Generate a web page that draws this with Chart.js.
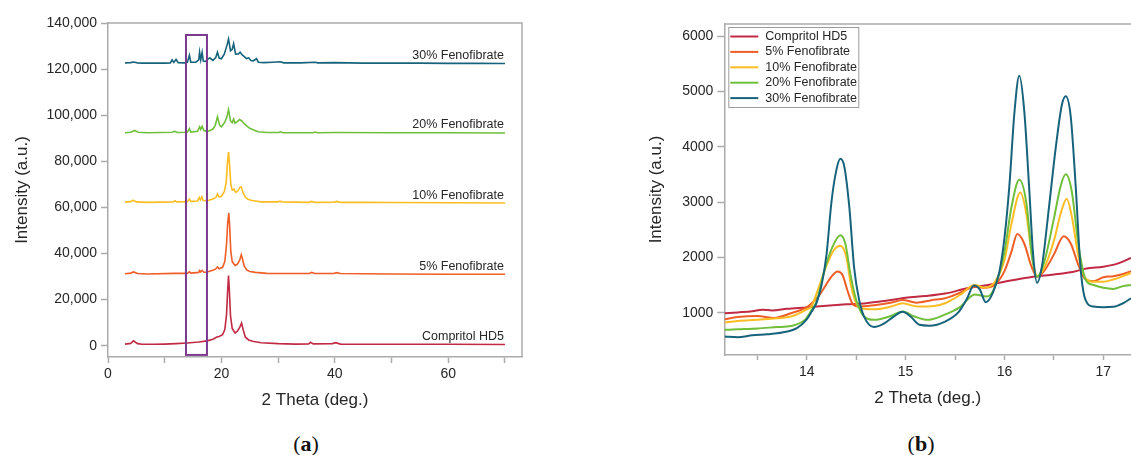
<!DOCTYPE html>
<html>
<head>
<meta charset="utf-8">
<script src="https://cdn.jsdelivr.net/npm/chart.js@4.4.1/dist/chart.umd.min.js"></script>
<style>
  html, body { margin: 0; padding: 0; background: #fff; width: 1131px; height: 455px; overflow: hidden; }
  canvas { position: absolute; top: 0; }
  .panel-tag { position: absolute; top: 431px; font-family: "Liberation Serif", "DejaVu Serif", serif; font-size: 22px; color: #111; transform: translateX(-50%); white-space: nowrap; }
</style>
</head>
<body>
<canvas id="chartA" width="560" height="420" style="left:0"></canvas>
<canvas id="chartB" width="511" height="420" style="left:620px"></canvas>
<div class="panel-tag" style="left:306px">(<b>a</b>)</div>
<div class="panel-tag" style="left:921px">(<b>b</b>)</div>
<script>
// ---- series names ----
const seriesLabels = ['Compritol HD5', '5% Fenofibrate', '10% Fenofibrate', '20% Fenofibrate', '30% Fenofibrate'];
const seriesColors = ['#C02A44', '#EF5E27', '#FDBD22', '#6FBF3A', '#17637C'];

// ---- (a) full diffractograms, [2θ, intensity] ----
const aCompritol = [[3,700],[4,1000],[4.5,2100],[5.2,900],[6,600],[8,600],[10,700],[12,900],[14,1200],[16,1600],[17.5,2100],[18.5,2800],[19.2,3800],[19.6,4000],[20.2,4800],[20.6,7000],[20.9,13500],[21.1,24000],[21.25,30400],[21.4,24000],[21.6,13000],[21.9,7500],[22.4,5500],[22.8,6300],[23.2,7800],[23.55,9800],[23.85,6800],[24.2,3800],[24.8,2500],[25.5,1900],[27,1300],[30,900],[33,700],[35.4,800],[35.7,1500],[36.2,800],[39.6,900],[40.1,1300],[41,700],[45,600],[50,600],[60,600],[70,500]];
const aFeno5 = [[3,31200],[4,31500],[4.5,32000],[5.2,31300],[7,31100],[11.8,31400],[14,31400],[14.35,32100],[14.6,31500],[16,31800],[16.15,32600],[16.35,32000],[16.6,32700],[16.9,31900],[17.5,32000],[18.5,32700],[19,33300],[19.3,34200],[19.6,33400],[20.2,34000],[20.6,36500],[20.9,44000],[21.1,53000],[21.3,57600],[21.45,52000],[21.65,41000],[21.9,36500],[22.4,34800],[22.8,35300],[23.2,37000],[23.5,39400],[23.75,37300],[24.0,34600],[24.5,32800],[25,32200],[26,31800],[28,31400],[32,31300],[35.5,31300],[35.9,31800],[36.5,31300],[39.8,31300],[40.3,31700],[41,31300],[45,31200],[50,31100],[60,31000],[70,31000]];
const aFeno10 = [[3,62300],[4,62500],[4.4,63100],[5,62400],[7,62200],[11.5,62400],[11.8,62900],[12.1,62400],[14,62500],[14.35,63600],[14.6,62600],[15.8,62800],[16.1,64300],[16.3,63300],[16.55,64500],[16.8,63000],[17.5,62900],[18.5,63600],[19,64300],[19.3,65800],[19.6,64500],[20,64800],[20.5,66800],[20.85,71000],[21.05,79000],[21.25,84000],[21.45,78000],[21.65,70000],[21.9,67500],[22.2,67900],[22.5,66500],[22.9,67200],[23.3,68800],[23.5,68900],[23.8,66500],[24.2,64500],[24.6,63600],[25.2,63100],[26,62800],[27,62400],[30,62400],[30.3,62700],[30.7,62400],[35.5,62200],[35.9,62600],[36.4,62200],[40,62300],[40.3,62600],[41,62200],[45,62200],[50,62100],[60,62000],[70,61900]];
const aFeno20 = [[3,92400],[4,92600],[4.7,93400],[5.3,92600],[7,92400],[11.3,92600],[11.8,93000],[12.2,92500],[14,92600],[14.35,94200],[14.6,92700],[15.8,93000],[16.15,95000],[16.35,93800],[16.6,95200],[16.9,93300],[17.5,93000],[18,93400],[18.5,94000],[18.9,95500],[19.3,99300],[19.7,95600],[20,95000],[20.6,97000],[21,99500],[21.25,102400],[21.6,97500],[21.9,96800],[22.15,98300],[22.4,96500],[22.8,97200],[23.2,98100],[23.6,97500],[24,96300],[24.5,95300],[25,94300],[25.5,93800],[26,93300],[26.5,92800],[28,92500],[30.1,92500],[30.4,92800],[30.8,92400],[36.2,92400],[36.5,92700],[37,92400],[40,92500],[50,92400],[60,92400],[70,92300]];
const aFeno30 = [[3,122700],[4,122800],[4.5,123100],[5.2,122700],[6,122600],[10,122600],[11,122700],[11.3,124000],[11.6,122900],[12,124200],[12.4,122800],[13.5,122700],[14,122900],[14.35,126000],[14.6,123000],[15.5,123000],[16,124000],[16.15,127400],[16.35,124000],[16.6,127300],[16.8,123500],[17.2,123300],[17.7,124500],[18,124800],[18.5,123800],[19,125000],[19.3,127300],[19.6,124800],[20,124500],[20.5,126500],[21,130500],[21.25,133100],[21.6,128000],[21.9,128600],[22.15,131000],[22.5,126500],[23,126600],[23.3,127300],[23.7,126000],[24.1,125300],[24.4,124600],[24.8,124900],[25.2,123700],[25.6,123600],[26.2,124500],[26.5,123000],[27.5,122800],[29,123000],[30.4,123200],[31,122700],[34,122700],[36.5,123000],[37,122700],[40,122800],[45,122600],[50,122600],[55,122600],[60,122500],[65,122500],[70,122400]];

// ---- (b) enlarged 13–17.3° window, [2θ, intensity] ----
const bCompritol = [[13.17,990],[13.3,1005],[13.45,1025],[13.55,1055],[13.65,1040],[13.8,1070],[14.0,1095],[14.2,1125],[14.4,1150],[14.6,1170],[14.8,1215],[15.0,1270],[15.2,1300],[15.4,1345],[15.62,1440],[15.8,1490],[16.0,1560],[16.29,1650],[16.5,1690],[16.7,1740],[16.83,1800],[17.0,1830],[17.15,1890],[17.28,1990]];
const bFeno5 = [[13.17,880],[13.3,920],[13.5,940],[13.67,905],[13.84,990],[14.01,1110],[14.08,1220],[14.14,1350],[14.25,1650],[14.31,1745],[14.36,1690],[14.41,1410],[14.46,1170],[14.52,1110],[14.68,1135],[14.85,1180],[14.97,1230],[15.11,1180],[15.26,1225],[15.4,1260],[15.55,1360],[15.7,1470],[15.8,1450],[15.9,1500],[16.0,1750],[16.07,2100],[16.13,2420],[16.2,2250],[16.27,1850],[16.33,1650],[16.4,1750],[16.5,2050],[16.6,2380],[16.67,2250],[16.75,1850],[16.82,1600],[16.9,1570],[17.0,1640],[17.1,1660],[17.2,1700],[17.28,1750]];
const bFeno10 = [[13.17,820],[13.3,850],[13.5,870],[13.7,900],[13.84,930],[14.0,1060],[14.05,1120],[14.11,1400],[14.2,1850],[14.27,2120],[14.34,2210],[14.4,2010],[14.45,1470],[14.5,1170],[14.55,1080],[14.68,1060],[14.85,1110],[14.97,1170],[15.12,1110],[15.29,1120],[15.4,1170],[15.55,1320],[15.7,1500],[15.8,1450],[15.9,1550],[16.0,1950],[16.07,2600],[16.16,3170],[16.22,2800],[16.28,2000],[16.33,1660],[16.4,1800],[16.5,2300],[16.57,2800],[16.63,3060],[16.68,2750],[16.75,2000],[16.82,1620],[16.9,1560],[17.0,1560],[17.1,1600],[17.2,1660],[17.28,1720]];
const bFeno20 = [[13.17,690],[13.3,700],[13.5,715],[13.7,740],[13.84,760],[13.98,870],[14.05,1050],[14.1,1200],[14.18,1770],[14.26,2190],[14.34,2400],[14.39,2250],[14.44,1710],[14.5,1230],[14.58,930],[14.68,870],[14.85,940],[14.97,1020],[15.09,930],[15.22,870],[15.39,960],[15.55,1100],[15.7,1330],[15.82,1290],[15.9,1450],[16.0,2100],[16.07,2900],[16.15,3400],[16.22,3000],[16.28,2000],[16.33,1650],[16.4,1900],[16.5,2700],[16.57,3300],[16.62,3500],[16.68,3200],[16.75,2200],[16.82,1600],[16.9,1500],[17.0,1450],[17.1,1430],[17.2,1480],[17.28,1500]];
const bFeno30 = [[13.17,570],[13.3,555],[13.45,590],[13.6,610],[13.75,640],[13.9,720],[14.0,880],[14.05,1020],[14.1,1180],[14.15,1500],[14.2,2050],[14.25,3000],[14.3,3580],[14.34,3780],[14.38,3640],[14.43,2920],[14.48,1800],[14.53,1230],[14.58,930],[14.68,740],[14.78,800],[14.88,930],[14.97,1015],[15.05,930],[15.14,780],[15.24,765],[15.4,840],[15.54,1020],[15.62,1250],[15.69,1490],[15.75,1420],[15.81,1190],[15.88,1350],[15.95,1750],[16.0,2350],[16.05,3300],[16.1,4600],[16.15,5280],[16.2,4650],[16.25,3250],[16.29,2050],[16.33,1540],[16.38,1850],[16.45,2900],[16.52,4000],[16.58,4750],[16.62,4910],[16.67,4550],[16.72,3300],[16.77,1800],[16.82,1230],[16.9,1110],[17.0,1100],[17.1,1105],[17.2,1170],[17.28,1260]];

// ---- axes ----
const xTicksA = [0, 10, 20, 30, 40, 50, 60, 70];
const xLabelsA = [0, 20, 40, 60];
const yTicksA = [0, 20000, 40000, 60000, 80000, 100000, 120000, 140000];
const xTicksB = [13.5, 14, 14.5, 15, 15.5, 16, 16.5, 17];
const xLabelsB = [14, 15, 16, 17];
const yTicksB = [1000, 2000, 3000, 4000, 5000, 6000];

// region of (a) shown enlarged in (b)
const zoomBoxX = [13.75, 17.45];
const zoomBoxY = [-4000, 134800];

const FONT = "'Liberation Sans', Arial, sans-serif";
const AXIS = '#ABABAB';
const TEXT = '#262626';

Chart.defaults.font.family = FONT;

const toPoints = arr => arr.map(([x, y]) => ({ x, y }));

function makeDatasets(groups, width, smooth) {
  return groups.map((g, i) => ({
    label: seriesLabels[i],
    data: toPoints(g),
    borderColor: seriesColors[i],
    backgroundColor: seriesColors[i],
    borderWidth: width,
    pointRadius: 0,
    fill: false,
    tension: 0,
    cubicInterpolationMode: smooth ? 'monotone' : 'default',
    order: groups.length - i
  }));
}

// gray frame on the remaining sides of the plot area
const framePlugin = {
  id: 'frame',
  afterDraw(chart, args, opts) {
    const { ctx, chartArea: a } = chart;
    ctx.save();
    ctx.strokeStyle = AXIS;
    ctx.lineWidth = 1.5;
    ctx.beginPath();
    ctx.moveTo(a.left, a.top);
    ctx.lineTo(a.right, a.top);
    if (opts.right) ctx.lineTo(a.right, a.bottom);
    ctx.stroke();
    ctx.restore();
  }
};

// names written above the end of each trace
const endLabelPlugin = {
  id: 'endLabels',
  afterDatasetsDraw(chart) {
    const { ctx, scales: { x, y } } = chart;
    ctx.save();
    ctx.font = `12.5px ${FONT}`;
    ctx.fillStyle = TEXT;
    ctx.textAlign = 'right';
    ctx.textBaseline = 'alphabetic';
    chart.data.datasets.forEach(ds => {
      const last = ds.data[ds.data.length - 1];
      ctx.fillText(ds.label, x.getPixelForValue(last.x) - 1, y.getPixelForValue(last.y) - 4.5);
    });
    ctx.restore();
  }
};

// outline of the enlarged window
const zoomBoxPlugin = {
  id: 'zoomBox',
  afterDatasetsDraw(chart) {
    const { ctx, scales: { x, y } } = chart;
    const x0 = x.getPixelForValue(zoomBoxX[0]), x1 = x.getPixelForValue(zoomBoxX[1]);
    const y0 = y.getPixelForValue(zoomBoxY[1]), y1 = y.getPixelForValue(zoomBoxY[0]);
    ctx.save();
    ctx.strokeStyle = '#7B3A8E';
    ctx.lineWidth = 2;
    ctx.strokeRect(x0, y0, x1 - x0, y1 - y0);
    ctx.restore();
  }
};

// boxed legend in the upper-left corner of (b)
const legendBoxPlugin = {
  id: 'legendBox',
  afterDraw(chart) {
    const { ctx, chartArea: a } = chart;
    const left = a.left + 4, top = a.top + 3, w = 130, h = 80;
    ctx.save();
    ctx.fillStyle = '#fff';
    ctx.fillRect(left, top, w, h);
    ctx.strokeStyle = '#9C9C9C';
    ctx.lineWidth = 1;
    ctx.strokeRect(left + 0.5, top + 0.5, w, h);
    ctx.font = `12.5px ${FONT}`;
    ctx.textBaseline = 'middle';
    ctx.textAlign = 'left';
    chart.data.datasets.forEach((ds, i) => {
      const yy = top + 9.5 + i * 15.4;
      ctx.strokeStyle = ds.borderColor;
      ctx.lineWidth = 2;
      ctx.beginPath();
      ctx.moveTo(left + 2, yy);
      ctx.lineTo(left + 30, yy);
      ctx.stroke();
      ctx.fillStyle = TEXT;
      ctx.fillText(ds.label, left + 37, yy);
    });
    ctx.restore();
  }
};

function axis(cfg) {
  return {
    type: 'linear',
    min: cfg.min,
    max: cfg.max,
    afterBuildTicks: s => { s.ticks = cfg.ticks.map(v => ({ value: v })); },
    afterFit: s => { if (cfg.width !== undefined) s.width = cfg.width; if (cfg.height !== undefined) s.height = cfg.height; },
    grid: { drawOnChartArea: false, drawTicks: true, tickLength: cfg.tickLength, tickColor: AXIS, tickWidth: 1.5 },
    border: { display: true, color: AXIS, width: 1.5 },
    ticks: {
      autoSkip: false,
      maxRotation: 0,
      padding: cfg.tickPad,
      color: TEXT,
      font: { size: 14 },
      callback: cfg.format
    },
    title: {
      display: true,
      text: cfg.title,
      color: TEXT,
      font: { size: 17 },
      padding: cfg.titlePad
    }
  };
}

new Chart(document.getElementById('chartA'), {
  type: 'line',
  data: { datasets: makeDatasets([aCompritol, aFeno5, aFeno10, aFeno20, aFeno30], 1.6, false) },
  options: {
    responsive: false,
    animation: false,
    devicePixelRatio: 1,
    layout: { padding: { top: 23, right: 38, left: 0, bottom: 0 } },
    plugins: { legend: { display: false }, tooltip: { enabled: false }, frame: { right: true } },
    scales: {
      x: axis({ min: 0, max: 73, ticks: xTicksA, height: 63, tickLength: 6, tickPad: 3,
        format: v => (xLabelsA.includes(v) ? String(v) : ''), title: '2 Theta (deg.)', titlePad: { top: 0, bottom: 9.8 } }),
      y: axis({ min: -4900, max: 140000, ticks: yTicksA, width: 108, tickLength: 7, tickPad: 4,
        format: v => v.toLocaleString('en-US'), title: 'Intensity (a.u.)', titlePad: { top: 12.3, bottom: 0 } })
    }
  },
  plugins: [framePlugin, endLabelPlugin, zoomBoxPlugin]
});

new Chart(document.getElementById('chartB'), {
  type: 'line',
  data: { datasets: makeDatasets([bCompritol, bFeno5, bFeno10, bFeno20, bFeno30], 2, true) },
  options: {
    responsive: false,
    animation: false,
    devicePixelRatio: 1,
    layout: { padding: { top: 24, right: 0, left: 0, bottom: 0 } },
    plugins: { legend: { display: false }, tooltip: { enabled: false }, frame: { right: false } },
    scales: {
      x: axis({ min: 13.166, max: 17.28, ticks: xTicksB, height: 65, tickLength: 5, tickPad: 4,
        format: v => (xLabelsB.includes(v) ? String(v) : ''), title: '2 Theta (deg.)', titlePad: { top: 0, bottom: 11.3 } }),
      y: axis({ min: 235, max: 6217, ticks: yTicksB, width: 104.3, tickLength: 7, tickPad: 4,
        format: v => String(v), title: 'Intensity (a.u.)', titlePad: { top: 25.8, bottom: 0 } })
    }
  },
  plugins: [framePlugin, legendBoxPlugin]
});
</script>
</body>
</html>
